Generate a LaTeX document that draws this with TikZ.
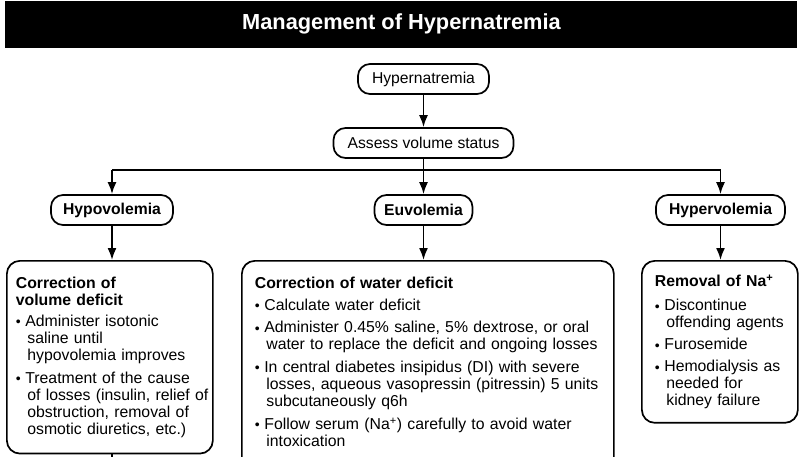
\documentclass[tikz,border=0pt]{standalone}
\usepackage{fontspec}
\setmainfont{Liberation Sans}
\usetikzlibrary{%
  arrows.meta,% Latex tips
  positioning%
}
\newcommand{\bul}{\makebox[9.5pt][l]{\raisebox{-0.5pt}{\fontsize{14}{14}\selectfont\textbullet}}}
\newcommand{\cont}{\hspace*{11.5pt}}

\begin{document}
\begin{tikzpicture}[x=1pt,y=-1pt]
 \useasboundingbox (0,0) rectangle (800,457);
 \begin{scope}[line width=1.7pt,black,
   pill/.style={draw,rounded corners=12pt,minimum height=30pt,inner xsep=0pt,font=\fontsize{15.7}{17}\selectfont},
   card/.style={draw,rounded corners=13pt,anchor=north west,align=left,inner xsep=9pt,inner ysep=16pt,font=\fontsize{15.8}{17}\selectfont},
   flow/.style={line width=1.8pt,-{Latex[length=12pt,width=9pt]}},
   wire/.style={line width=1.8pt}]
   %Titelbalken
   \fill (5,1) rectangle (797,48);
   \node [text=white,font=\fontsize{21.8}{22}\selectfont\bfseries] (title) at (401.5,24) {Management of Hypernatremia};

   \node [pill,minimum width=131pt] (hyper) at (423.5,79) {Hypernatremia};
   \node [pill,minimum width=180pt] (assess) at (423.5,143) {Assess volume status};
   \coordinate (split) at (423.5,170);

   \node [pill,minimum width=122pt,font=\fontsize{15.7}{17}\selectfont\bfseries] (hypo) at (112,210) {Hypovolemia};
   \node [pill,minimum width=98pt,font=\fontsize{15.7}{17}\selectfont\bfseries] (euvo) at (423.5,210) {Euvolemia};
   \node [pill,minimum width=129pt,font=\fontsize{15.7}{17}\selectfont\bfseries] (hyperv) at (720.5,210) {Hypervolemia};

   \node [card,text width=188pt] (lbox) at (6,260) {%
     \textbf{Correction of}\\
     \textbf{volume deficit}\\[4pt]
     \bul Administer isotonic\\
     \cont saline until\\
     \cont hypovolemia improves\\[6pt]
     \bul Treatment of the cause\\
     \mbox{\cont of losses (insulin, relief of}\\
     \cont obstruction, removal of\\
     \cont osmotic diuretics, etc.)};

   \node [card,inner xsep=13pt,text width=346pt] (mbox) at (241,260) {%
     \textbf{Correction of water deficit}\\[5pt]
     \bul Calculate water deficit\\[5.5pt]
     \bul Administer 0.45\% saline, 5\% dextrose, or oral\\
     \cont water to replace the deficit and ongoing losses\\[5.5pt]
     \bul In central diabetes insipidus (DI) with severe\\
     \cont losses, aqueous vasopressin (pitressin) 5 units\\
     \cont subcutaneously q6h\\[6pt]
     \bul Follow serum (Na\textsuperscript{+}) carefully to avoid water\\
     \cont intoxication\par\vspace*{30pt}};

   \node [card,inner xsep=13pt,inner ysep=14pt,text width=130pt] (rbox) at (641,260) {%
     \vspace*{2pt}\textbf{Removal of Na\textsuperscript{+}}\\[5pt]
     \bul Discontinue\\
     \cont offending agents\\[5pt]
     \bul Furosemide\\[5pt]
     \bul Hemodialysis as\\
     \cont needed for\\
     \cont kidney failure};

   \draw [flow] (hyper) -- (assess);
   \draw [wire] (assess) -- (split);
   \draw [wire] (hypo |- split) -- (hyperv |- split);
   \draw [flow] (hypo |- split) -- (hypo);
   \draw [flow] (split) -- (euvo);
   \draw [flow] (hyperv |- split) -- (hyperv);

   \draw [flow] (hypo) -- (hypo |- lbox.north);
   \draw [flow] (euvo) -- (euvo |- mbox.north);
   \draw [flow] (hyperv) -- (hyperv |- rbox.north);

   \coordinate (lnext) at (112,470);
   \draw [wire] (lbox.south -| lnext) -- (lnext);
 \end{scope}
\end{tikzpicture}
\end{document}
